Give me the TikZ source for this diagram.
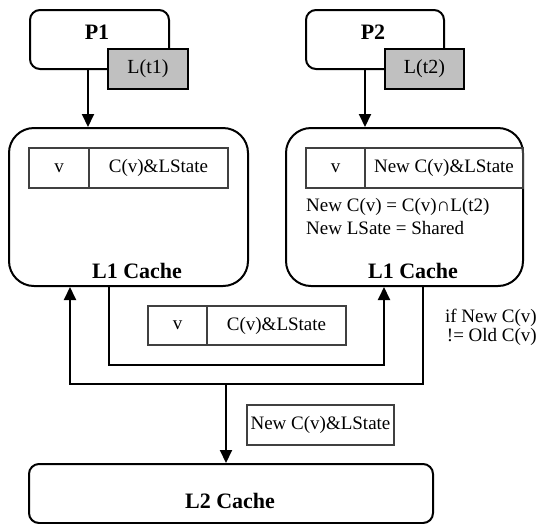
\documentclass[tikz,border=0pt]{standalone}
\usepackage{fontspec}
\setmainfont{Liberation Serif}
\usetikzlibrary{arrows.meta,calc}
\definecolor{lgray}{RGB}{192,192,192}
\definecolor{tgray}{RGB}{64,64,64}
\begin{document}
\begin{tikzpicture}[x=1pt,y=-1pt,
  box/.style={draw=black, line width=2pt, rounded corners=10pt, inner sep=0pt, anchor=north west},
  bigbox/.style={draw=black, line width=2pt, rounded corners=25pt, inner sep=0pt, anchor=north west},
  lbox/.style={draw=black, line width=2pt, fill=lgray, inner sep=0pt, minimum width=80pt, minimum height=40pt, anchor=north west, font=\fontsize{20}{22}\selectfont},
  cell/.style={draw=tgray, line width=2pt, inner sep=0pt, minimum height=40pt, anchor=north west, font=\fontsize{19}{21}\selectfont},
  title/.style={font=\fontsize{22}{24}\selectfont\bfseries, inner sep=0pt},
  txt/.style={font=\fontsize{19}{21}\selectfont, inner sep=0pt},
  conn/.style={line width=2pt, draw=black},
  arr/.style={conn, -{Triangle[length=13pt,width=12pt]}},
]
\useasboundingbox (0,0) rectangle (537,523);

% processors
\node[box, minimum width=139pt, minimum height=59pt] (p1) at (29,9) {};
\node[title] (p1t) at (97,32) {P1};
\node[lbox] (lt1) at (107,48) {L(t1)};
\node[box, minimum width=138pt, minimum height=59pt] (p2) at (305,9) {};
\node[title] (p2t) at (373,32) {P2};
\node[lbox, minimum width=79pt] (lt2) at (384,48) {L(t2)};

% L1 caches
\node[bigbox, minimum width=239pt, minimum height=158pt] (l1a) at (8,127) {};
\node[title] (l1at) at (137,271) {L1 Cache};
\node[bigbox, minimum width=237pt, minimum height=158pt] (l1b) at (285,127) {};
\node[title] (l1bt) at (413,271) {L1 Cache};

% tables
\node[cell, minimum width=60pt] (ta1) at (28,147) {v};
\node[cell, minimum width=139pt] (ta2) at (88,147) {C(v)\&LState};
\node[cell, minimum width=59pt] (tb1) at (305,147) {v};
\node[cell, minimum width=158pt] (tb2) at (364,147) {New C(v)\&LState};
\node[txt, anchor=west] (eq1) at (306,207) {New C(v) = C(v)∩L(t2)};
\node[txt, anchor=west] (eq2) at (306,228) {New LSate = Shared};

\node[cell, minimum width=59pt, minimum height=39pt] (tc1) at (147,305) {v};
\node[cell, minimum width=139pt, minimum height=39pt] (tc2) at (206,305) {C(v)\&LState};

\node[txt, align=right, anchor=east, font=\fontsize{19}{19}\selectfont] (cond) at (537,327) {if New C(v)\\!= Old C(v)};

% L2
\node[box, minimum width=404pt, minimum height=59pt] (l2) at (28,463) {};
\node[title] (l2t) at (230,501) {L2 Cache};
\node[cell, minimum width=147pt] (td) at (246,404) {New C(v)\&LState};

% connectors
\draw[arr] ([xshift=59pt]p1.south west) -- ([xshift=59pt]p1.south west |- l1a.north);
\draw[arr] ([xshift=60pt]p2.south west) -- ([xshift=60pt]p2.south west |- l1b.north);
\coordinate (bus) at (226,384);
\draw[arr] ([xshift=101pt]l1a.south west) -- ++(0,78) -| ([xshift=99pt]l1b.south west);
\draw[arr] ([xshift=138pt]l1b.south west) |- (bus) -| ([xshift=62pt]l1a.south west);
\draw[arr] (bus) -- (bus |- l2.north);
\end{tikzpicture}
\end{document}
